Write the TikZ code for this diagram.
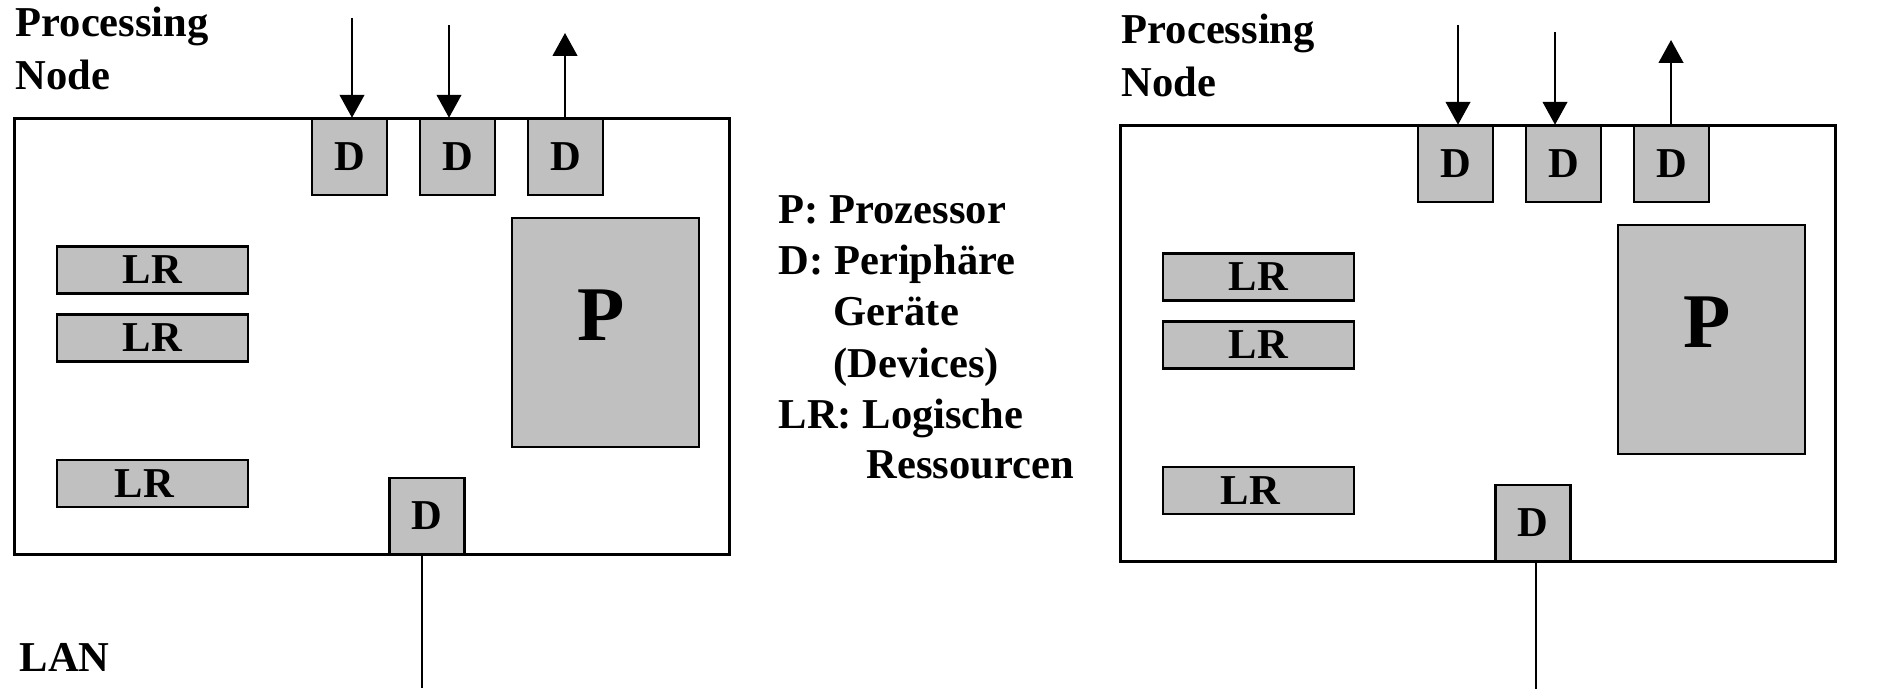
\documentclass[tikz,border=0pt]{standalone}
\usepackage{fontspec}
\setmainfont{Liberation Serif}
\usetikzlibrary{arrows.meta}

\definecolor{boxgray}{RGB}{192,192,192}
\newcommand{\lblfont}{\bfseries\fontsize{12.1}{14.5}\selectfont}
\newcommand{\bigfont}{\bfseries\fontsize{22}{26}\selectfont}

\tikzset{
  frame/.style={draw, line width=0.85pt, inner sep=0pt, minimum width=7.14cm, minimum height=4.35cm},
  part/.style={draw, fill=boxgray, line width=0.7pt, inner sep=0pt, font=\lblfont},
  dev/.style={part, minimum width=0.75cm, minimum height=0.76cm},
  lres/.style={part, minimum width=1.91cm, minimum height=0.47cm},
  proc/.style={part, minimum width=1.87cm, minimum height=2.29cm},
  txt/.style={inner sep=0pt, anchor=base west, font=\lblfont},
  io/.style={line width=0.57pt, -{Triangle[width=7pt,length=6.5pt]}},
  wire/.style={line width=0.57pt},
}

% One processing node, names start with #1, LAN wire at x=#2
\newcommand{\procnode}[2]{%
  \node[frame] (#1-frame) at (372,336.5) {};
  % Devices on the border
  \node[dev] (#1-d1) at (349.5,157) {D};
  \node[dev] (#1-d2) at (457.5,157) {D};
  \node[dev] (#1-d3) at (565.5,157) {D};
  \node[dev] (#1-d4) at (427,516) {D};
  % Processor and logical resources
  \node[proc] (#1-p) at (605.5,332.5) {};
  \node[font=\bigfont, inner sep=0pt] (#1-plbl) at (601,315) {P};
  \node[lres] (#1-lr1) at (152.5,270) {LR};
  \node[lres] (#1-lr2) at (152.5,338) {LR};
  \node[lres] (#1-lr3) at (152.5,483.5) {LR\hspace*{0.16cm}};
  \node[txt] (#1-title1) at (15,37) {Processing};
  \node[txt] (#1-title2) at (15,90) {Node};
  % In/out arrows and the LAN wire
  \coordinate (#1-in1) at (352,18);
  \coordinate (#1-in2) at (449,25);
  \coordinate (#1-out) at (565,33);
  \coordinate (#1-lan) at (#2,688);
  \draw[io] (#1-in1) -- (#1-in1 |- #1-d1.north);
  \draw[io] (#1-in2) -- (#1-in2 |- #1-d2.north);
  \draw[io] (#1-out |- #1-d3.north) -- (#1-out);
  \draw[wire] (#1-lan |- #1-d4.south) -- (#1-lan);
}

\begin{document}
\begin{tikzpicture}[x=0.01cm, y=-0.01cm]
    \useasboundingbox (0,0) rectangle (1898,688);

    % Left node
    \procnode{a}{422}
    \node[txt] (lan) at (19,671) {LAN};

    % Right node
    \begin{scope}[shift={(1106,7)}]
        \procnode{b}{430}
    \end{scope}

    % Legend
    \node[txt] (key-p) at (778,223) {P: Prozessor};
    \node[txt] (key-d) at (778,274) {D: Periphäre};
    \node[txt] (key-d2) at (833,325) {Geräte};
    \node[txt] (key-d3) at (833,377) {(Devices)};
    \node[txt] (key-lr) at (778,428) {LR: Logische};
    \node[txt] (key-lr2) at (866,478) {Ressourcen};
\end{tikzpicture}
\end{document}
